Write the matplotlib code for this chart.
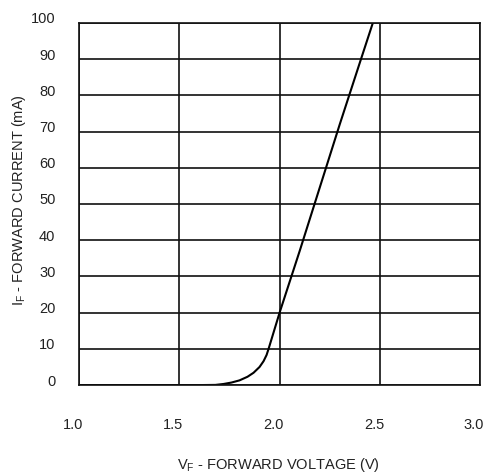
import matplotlib
matplotlib.use("Agg")
import matplotlib.pyplot as plt
import matplotlib.transforms as mtransforms

plt.rcParams['font.family'] = ['Liberation Sans', 'DejaVu Sans']
plt.rcParams['mathtext.default'] = 'regular'

# forward voltage (V) vs forward current (mA)
vf = [1.0, 1.60, 1.68, 1.72, 1.76, 1.80, 1.84, 1.87, 1.90, 1.92, 1.935, 1.945, 2.00, 2.10, 2.20, 2.30, 2.40, 2.465]
i_f = [0, 0, 0.05, 0.3, 0.7, 1.3, 2.3, 3.4, 5.0, 6.6, 8.3, 10.0, 20, 37, 54.5, 72, 89, 100]

xticks = [1.0, 1.5, 2.0, 2.5, 3.0]
xlabels = ["1.0", "1.5", "2.0", "2.5", "3.0"]
yticks = [0, 10, 20, 30, 40, 50, 60, 70, 80, 90, 100]

txt = '#222222'

fig = plt.figure(figsize=(4.85, 4.76), dpi=100)
ax = fig.add_axes([0.163, 0.191, 0.827, 0.761])

ax.plot(vf, i_f, color='black', lw=1.5, solid_capstyle='round', solid_joinstyle='round')

ax.set_xlim(1.0, 3.0)
ax.set_ylim(0, 100)
ax.set_xticks(xticks)
ax.set_xticklabels(xlabels)
ax.set_yticks(yticks)
ax.grid(True, color='#111111', lw=1.2)
for s in ax.spines.values():
    s.set_color('#111111')
    s.set_linewidth(1.2)
ax.tick_params(length=0, labelsize=10.5, colors=txt)
ax.tick_params(axis='x', pad=24)
ax.tick_params(axis='y', pad=17)

# labels sit a bit off the grid lines in the original
dy = mtransforms.ScaledTranslation(0, 5 / 100, fig.dpi_scale_trans)
for lab in ax.get_yticklabels():
    lab.set_transform(lab.get_transform() + dy)
dx = mtransforms.ScaledTranslation(-6 / 100, 0, fig.dpi_scale_trans)
for lab in ax.get_xticklabels():
    lab.set_transform(lab.get_transform() + dx)

fig.text(278 / 485, 1 - 465 / 476, "V$_F$ - FORWARD VOLTAGE (V)", fontsize=10.5,
         color=txt, ha='center', va='center')
fig.text(19 / 485, 1 - 200 / 476, "I$_F$ - FORWARD CURRENT (mA)", fontsize=10.5,
         color=txt, ha='center', va='center', rotation=90)

fig.savefig("out.png", dpi=100)
